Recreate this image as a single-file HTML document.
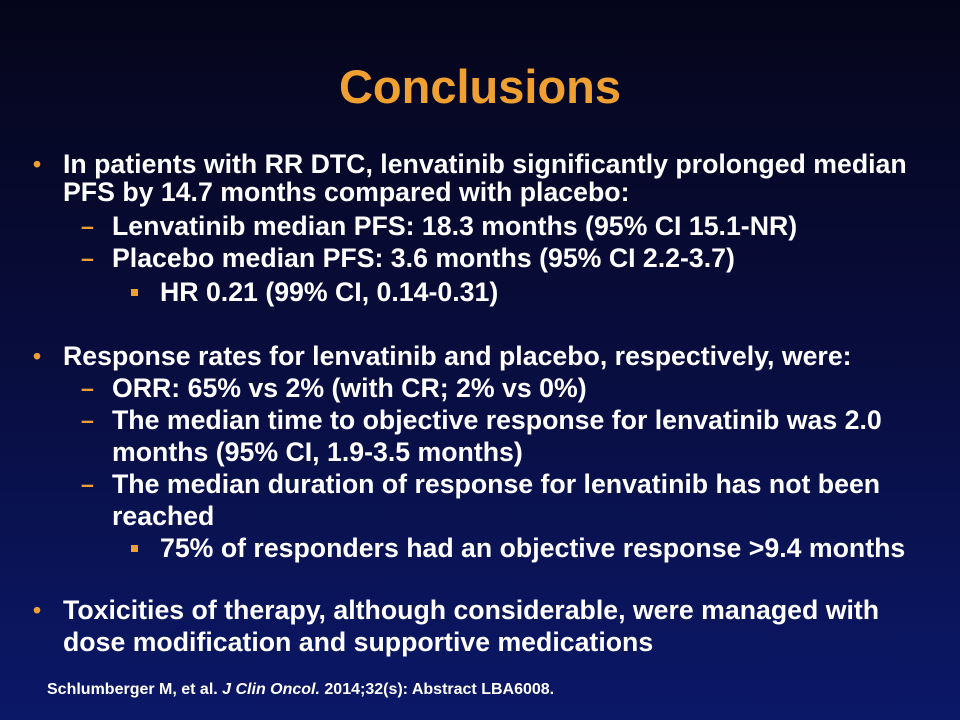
<!DOCTYPE html>
<html><head><meta charset="utf-8"><style>
html,body{margin:0;padding:0}
body{width:960px;height:720px;overflow:hidden;position:relative;
background:linear-gradient(180deg,#05051a 0%,#080c3a 45%,#0b1868 100%);
font-family:"Liberation Sans",Arial,sans-serif;color:#fff;font-weight:bold}
.t{position:absolute;white-space:nowrap;font-size:26.7px;line-height:32px}
.b{position:absolute;color:#f0a030;font-size:23px;line-height:32px}
.sq{position:absolute;width:7px;height:7px;background:#f0a030}
h1{position:absolute;top:61px;left:0;width:960px;text-align:center;margin:0;font-size:47px;color:#f0a030;line-height:52px}
.ft{position:absolute;left:47px;top:680px;font-size:16px;line-height:20px}
</style></head><body>
<h1>Conclusions</h1>

<span class="b" style="left:33px;top:148px">•</span>
<div class="t" style="left:63px;top:148px">In patients with RR DTC, lenvatinib significantly prolonged median</div>
<div class="t" style="left:63px;top:176px">PFS by 14.7 months compared with placebo:</div>
<span class="b" style="left:81px;top:210px">–</span>
<div class="t" style="left:112px;top:210px">Lenvatinib median PFS: 18.3 months (95% CI 15.1-NR)</div>
<span class="b" style="left:81px;top:242px">–</span>
<div class="t" style="left:112px;top:242px">Placebo median PFS: 3.6 months (95% CI 2.2-3.7)</div>
<div class="sq" style="left:131px;top:289px"></div>
<div class="t" style="left:160px;top:276px">HR 0.21 (99% CI, 0.14-0.31)</div>

<span class="b" style="left:33px;top:340px">•</span>
<div class="t" style="left:63px;top:340px">Response rates for lenvatinib and placebo, respectively, were:</div>
<span class="b" style="left:81px;top:372px">–</span>
<div class="t" style="left:112px;top:372px">ORR: 65% vs 2% (with CR; 2% vs 0%)</div>
<span class="b" style="left:81px;top:404px">–</span>
<div class="t" style="left:112px;top:404px">The median time to objective response for lenvatinib was 2.0</div>
<div class="t" style="left:112px;top:436px">months (95% CI, 1.9-3.5 months)</div>
<span class="b" style="left:81px;top:468px">–</span>
<div class="t" style="left:112px;top:468px">The median duration of response for lenvatinib has not been</div>
<div class="t" style="left:112px;top:500px">reached</div>
<div class="sq" style="left:131px;top:545px"></div>
<div class="t" style="left:160px;top:532px">75% of responders had an objective response &gt;9.4 months</div>

<span class="b" style="left:33px;top:594px">•</span>
<div class="t" style="left:63px;top:594px">Toxicities of therapy, although considerable, were managed with</div>
<div class="t" style="left:63px;top:626px">dose modification and supportive medications</div>

<div class="ft">Schlumberger M, et al. <i>J Clin Oncol.</i> 2014;32(s): Abstract LBA6008.</div>
</body></html>
